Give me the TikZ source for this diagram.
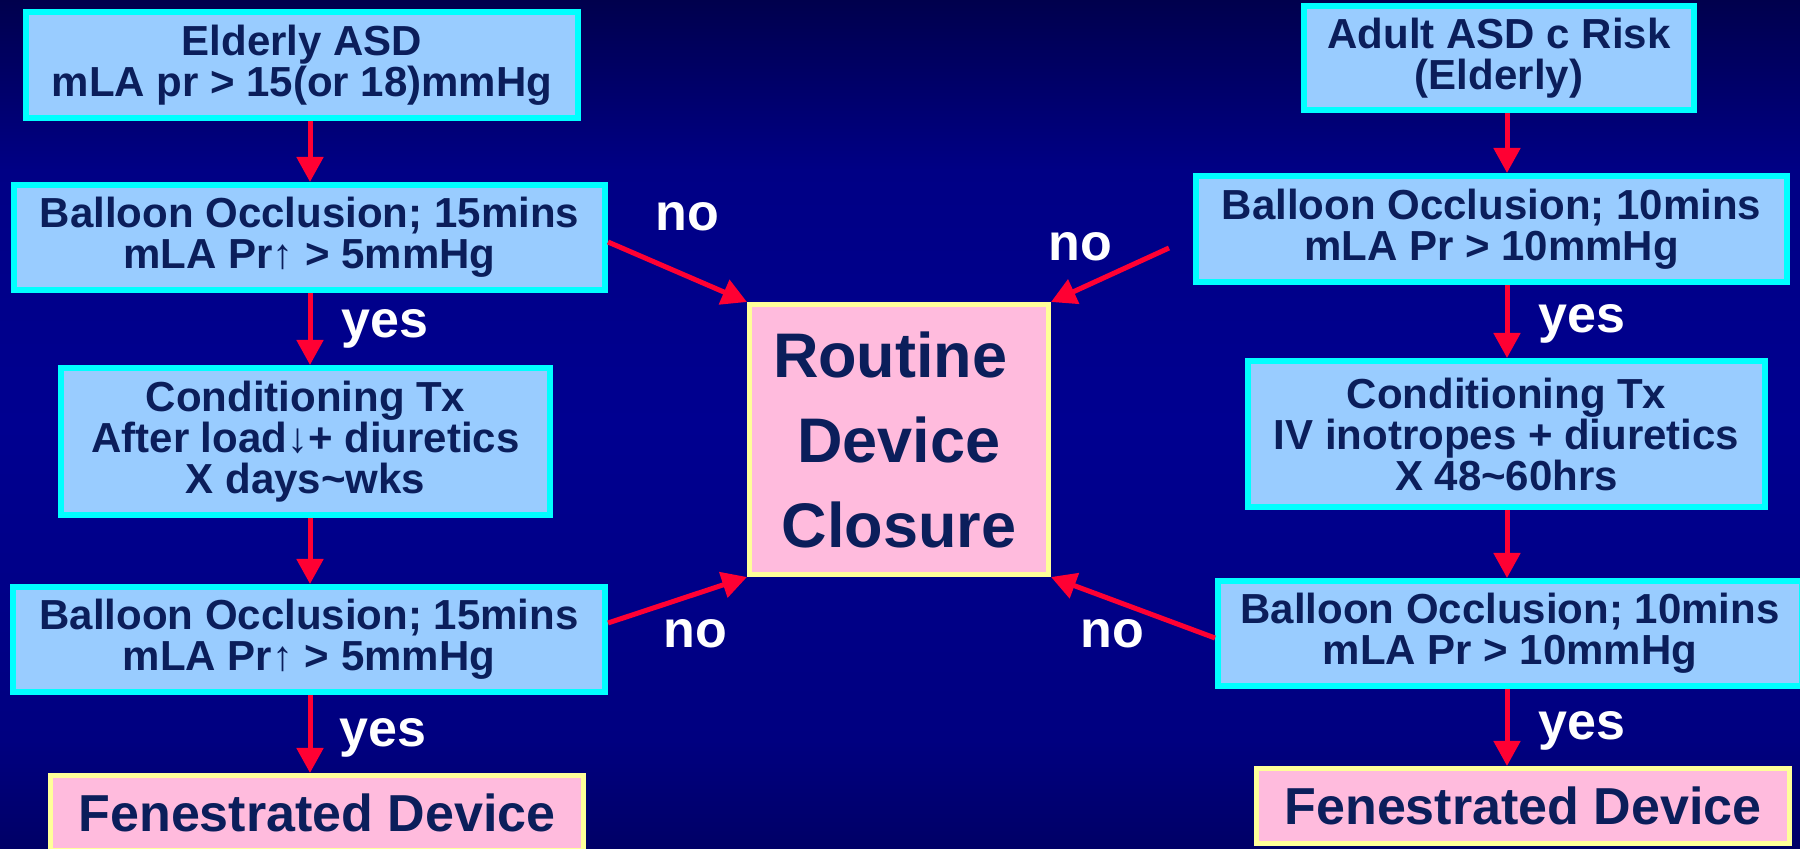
\documentclass[tikz,border=0pt]{standalone}
\usepackage{fontspec}
\setmainfont{Liberation Sans}
\usetikzlibrary{arrows.meta,calc}
\definecolor{bxfill}{HTML}{99CCFF}
\definecolor{cyanb}{HTML}{00FFFF}
\definecolor{pinkf}{HTML}{FFBBDD}
\definecolor{yelb}{HTML}{FFFF99}
\definecolor{navytxt}{HTML}{0B1E5B}
\definecolor{redarr}{HTML}{FF0033}
\definecolor{bgtop}{HTML}{00004D}
\definecolor{bgup}{HTML}{000085}
\definecolor{bgmid}{HTML}{000090}
\definecolor{bglow}{HTML}{000080}
\definecolor{bgbot}{HTML}{000066}
\pgfdeclareverticalshading{bgsh}{100bp}{color(0bp)=(bgbot); color(25bp)=(bgbot); color(31.4bp)=(bglow); color(50bp)=(bgmid); color(65bp)=(bgup); color(75bp)=(bgtop); color(100bp)=(bgtop)}
\begin{document}
\begin{tikzpicture}[x=0.5pt,y=-0.5pt,
  bluebox/.style={draw=cyanb, line width=3pt, fill=bxfill, text=navytxt, align=center, inner sep=0pt,
    font=\bfseries\fontsize{21pt}{20.5pt}\selectfont},
  pinkbox/.style={draw=yelb, line width=2.5pt, fill=pinkf, text=navytxt, align=center, inner sep=0pt},
  lbl/.style={text=white, inner sep=0pt, font=\bfseries\fontsize{26pt}{30pt}\selectfont},
  arr/.style={draw=redarr, fill=redarr, line width=2.5pt, -{Triangle[width=13pt,length=12.5pt]}}]
\useasboundingbox (0,0) rectangle (1800,849);
\begin{scope}
\clip (0,0) rectangle (1800,849);
\shade[shading=bgsh] (0,0) rectangle (1800,849);

% left column
\node[bluebox, minimum width=276pt, minimum height=53pt] (A) at (302,65)
  {Elderly ASD\\mLA pr > 15(or 18)mmHg};
\node[bluebox, minimum width=295.5pt, minimum height=52.5pt] (B) at (309.5,237.5)
  {Balloon Occlusion; 15mins\\mLA Pr\textuparrow{} > 5mmHg};
\node[bluebox, minimum width=244.5pt, minimum height=73.5pt] (C) at (305.5,441.5)
  {Conditioning Tx\\After load\textdownarrow+ diuretics\\X days{\char"007E}wks};
\node[bluebox, minimum width=296pt, minimum height=52.5pt] (D) at (309,639.5)
  {Balloon Occlusion; 15mins\\mLA Pr\textuparrow{} > 5mmHg};
\node[pinkbox, minimum width=266.5pt, minimum height=37.5pt,
  font=\bfseries\fontsize{26pt}{30pt}\selectfont] (E) at (317,813)
  {Fenestrated Device};

% centre
\node[pinkbox, minimum width=149.5pt, minimum height=135pt,
  font=\bfseries\fontsize{31.5pt}{42.5pt}\selectfont] (K) at (899,439.5)
  {Routine\hspace*{0.278em}\\Device\hspace*{0.278em}\\Closure};

% right column
\node[bluebox, minimum width=195pt, minimum height=52pt] (F) at (1499,58)
  {Adult ASD c Risk\\(Elderly)};
\node[bluebox, minimum width=295.5pt, minimum height=53pt] (G) at (1491.5,229)
  {Balloon Occlusion; 10mins\\mLA Pr > 10mmHg};
\node[bluebox, minimum width=258.5pt, minimum height=73pt] (H) at (1506.5,434)
  {Conditioning Tx\\IV inotropes + diuretics\\X 48{\char"007E}60hrs};
\node[bluebox, minimum width=292pt, minimum height=52.5pt] (I) at (1510,633.5)
  {Balloon Occlusion; 10mins\\mLA Pr > 10mmHg};
\node[pinkbox, minimum width=266.5pt, minimum height=37.5pt,
  font=\bfseries\fontsize{26pt}{30pt}\selectfont] (J) at (1523,806)
  {Fenestrated Device};

% vertical connectors
\coordinate (lx) at (310,0);
\coordinate (rx) at (1507,0);
\draw[arr] (A.south -| lx) -- (B.north -| lx);
\draw[arr] (B.south -| lx) -- (C.north -| lx);
\draw[arr] (C.south -| lx) -- (D.north -| lx);
\draw[arr] (D.south -| lx) -- (E.north -| lx);
\draw[arr] (F.south -| rx) -- (G.north -| rx);
\draw[arr] (G.south -| rx) -- (H.north -| rx);
\draw[arr] (H.south -| rx) -- (I.north -| rx);
\draw[arr] (I.south -| rx) -- (J.north -| rx);

% diagonal connectors
\coordinate (urs) at (1169,248);
\draw[arr] ($(B.east)+(0,4.5)$) -- (K.north west);
\draw[arr] (urs) -- (K.north east);
\draw[arr] ($(D.east)+(0,-16.5)$) -- (K.south west);
\draw[arr] ($(I.west)+(0,4.5)$) -- (K.south east);

% labels
\node[lbl] (n1) at (687,217) {no};
\node[lbl] (n2) at (1080,247) {no};
\node[lbl] (n3) at (695,634) {no};
\node[lbl] (n4) at (1112,634) {no};
\node[lbl, anchor=base west] (y1) at (341,338) {yes};
\node[lbl, anchor=base west] (y2) at (339,747) {yes};
\node[lbl, anchor=base west] (y3) at (1538,333) {yes};
\node[lbl, anchor=base west] (y4) at (1538,740) {yes};
\end{scope}
\end{tikzpicture}
\end{document}
